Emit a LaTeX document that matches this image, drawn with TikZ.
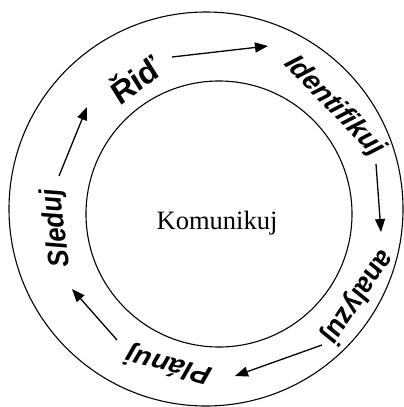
\documentclass[tikz,border=0pt]{standalone}
\usepackage{fontspec}
\setmainfont{Liberation Serif}
\setsansfont{Liberation Sans}
\usetikzlibrary{arrows.meta}
\tikzset{
  ring/.style={line width=1.1pt},
  hub/.style={inner sep=0pt, font=\fontsize{26.5}{26.5}\selectfont},
  stage/.style={inner sep=0pt, xscale=1.12,
                font=\sffamily\bfseries\itshape\fontsize{26}{26}\selectfont},
  cycarrow/.style={-{Triangle[length=13pt,width=10pt]}, line width=1.3pt},
}

\begin{document}
\begin{tikzpicture}[x=1pt,y=-1pt]
  \useasboundingbox (0,0) rectangle (404,407);
  % Rings
  \draw[ring] (206,209) circle (197);
  \draw[ring] (219,214) circle (133);
  % Centre
  \node[hub, anchor=base] (kom) at (217,229) {Komunikuj};
  % Stages (clockwise)
  \node[stage, rotate=40, scale=1.15] (rid) at (134,79)  {Řiď};
  \node[stage, rotate=-49]  (ide) at (334,106) {Identifikuj};
  \node[stage, rotate=-121] (ana) at (357,297) {analyzuj};
  \node[stage, rotate=164]  (pla) at (169,364) {Plánuj};
  \node[stage, rotate=96]   (sle) at (57,228)  {Sleduj};
  % Arrow ends
  \coordinate (rid-out) at (172,57);  \coordinate (ide-in) at (268,46);
  \coordinate (ide-out) at (376,164); \coordinate (ana-in) at (381,232);
  \coordinate (ana-out) at (322,345); \coordinate (pla-in) at (235,376);
  \coordinate (pla-out) at (117,340); \coordinate (sle-in) at (72,289);
  \coordinate (sle-out) at (59,176);  \coordinate (rid-in) at (87,107);
  % Arrows
  \foreach \a/\b in {rid-out/ide-in, ide-out/ana-in, ana-out/pla-in,
                     pla-out/sle-in, sle-out/rid-in}{
    \draw[cycarrow] (\a) -- (\b);
  }
\end{tikzpicture}
\end{document}
